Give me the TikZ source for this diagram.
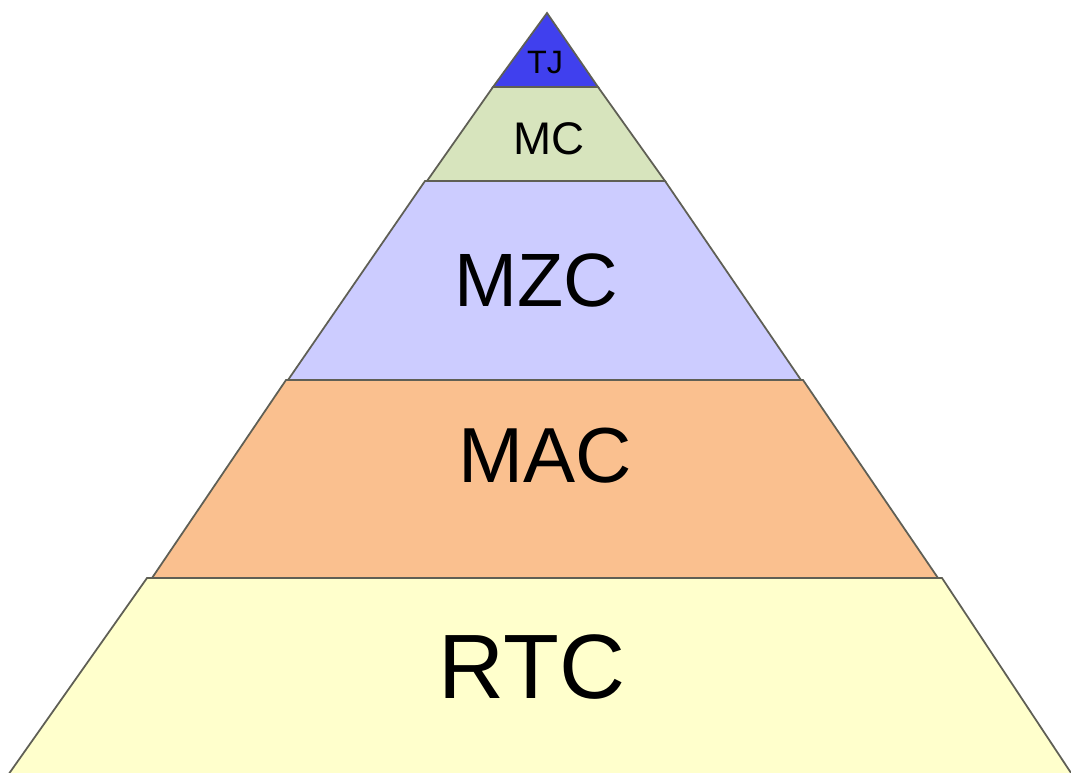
\documentclass[tikz,border=0pt]{standalone}
\usepackage{fontspec}
\setmainfont{Liberation Sans}
\usepackage{tikz}

\definecolor{tjblue}{RGB}{64,64,238}
\definecolor{mcgreen}{RGB}{215,228,189}
\definecolor{mzclilac}{RGB}{204,204,255}
\definecolor{macorange}{RGB}{250,192,143}
\definecolor{rtcyellow}{RGB}{255,255,204}
\definecolor{edgegray}{RGB}{95,95,85}

\begin{document}
\begin{tikzpicture}[x=0.01cm,y=-0.01cm,
		layer/.style={draw=edgegray,line width=0.5pt,line join=miter},
		lbl/.style={text=black,inner sep=0pt}]
			\clip (0,0) rectangle (1071,772);
			\fill[white] (0,0) rectangle (1071,772);
			% layers, bottom to top
			\filldraw[layer,fill=rtcyellow] (147,578) -- (942,578) -- (1079,785) -- (1,785) -- cycle;
			\filldraw[layer,fill=macorange] (286,380) -- (803,380) -- (938,578) -- (152,578) -- cycle;
			\filldraw[layer,fill=mzclilac] (425,181) -- (665,181) -- (801,380) -- (288,380) -- cycle;
			\filldraw[layer,fill=mcgreen] (493,87) -- (598,87) -- (665,181) -- (427,181) -- cycle;
			\filldraw[layer,fill=tjblue] (547,13) -- (598,87) -- (493,87) -- cycle;
			% labels
			\node[lbl,font=\fontsize{9.2}{9}\selectfont] (tj) at (545,63) {TJ};
			\node[lbl,font=\fontsize{13}{13}\selectfont] (mc) at (549,139) {MC};
			\node[lbl,font=\fontsize{21.5}{22}\selectfont] (mzc) at (536,280) {MZC};
			\node[lbl,font=\fontsize{22.2}{23}\selectfont] (mac) at (545,456) {MAC};
			\node[lbl,font=\fontsize{26}{26}\selectfont] (rtc) at (532,667) {RTC};
		\end{tikzpicture}
\end{document}
